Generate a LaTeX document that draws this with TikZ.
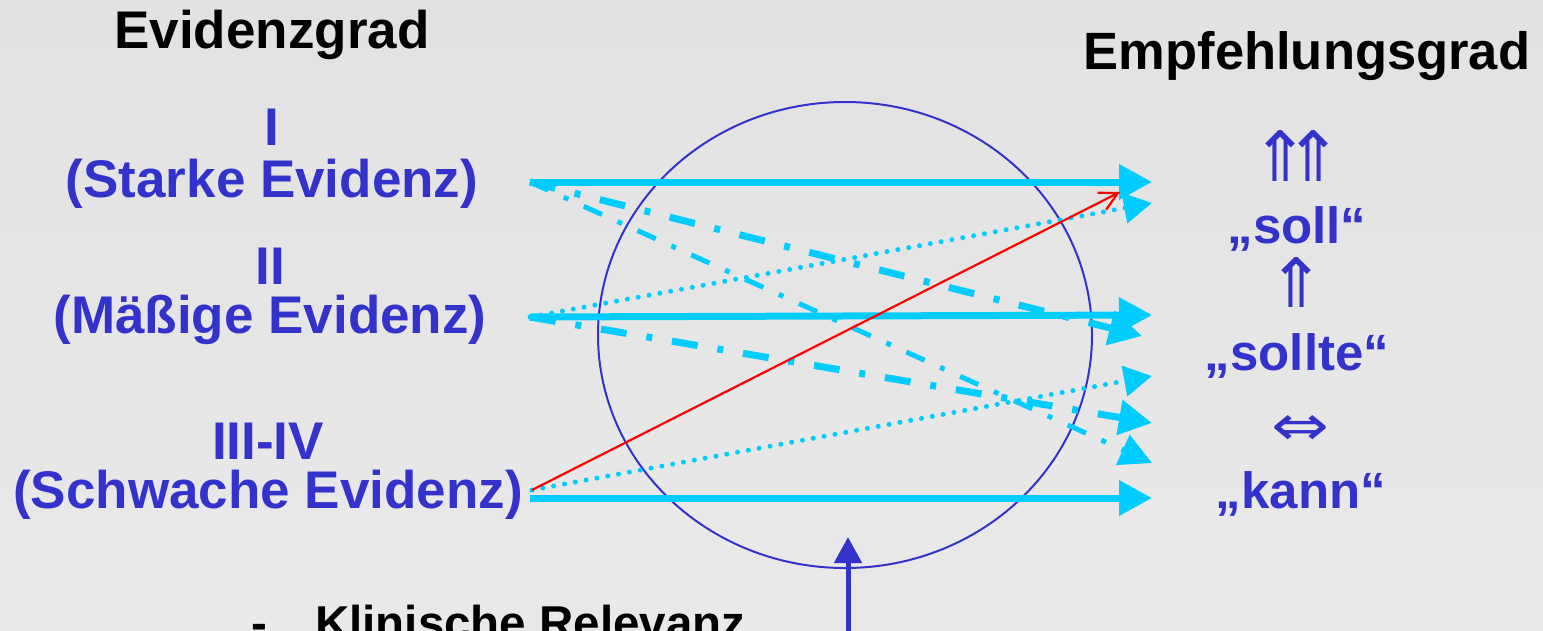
\documentclass[tikz,border=0pt]{standalone}
\usepackage{fontspec}
\setmainfont{Liberation Sans}
\newfontfamily\symfont{DejaVu Sans}
\usetikzlibrary{arrows.meta}
\definecolor{bgtop}{HTML}{E2E2E2}
\definecolor{bgbot}{HTML}{E9E9E9}
\definecolor{txtblue}{HTML}{3333CC}
\definecolor{cyanarr}{HTML}{00CCFF}
\begin{document}
\begin{tikzpicture}[x=1pt,y=-1pt,
  head/.style={font=\fontsize{53}{60}\selectfont\bfseries, text=black, inner sep=0pt, anchor=base},
  lbl/.style={font=\fontsize{53}{60}\selectfont\bfseries, text=txtblue, inner sep=0pt, anchor=base},
  rlbl/.style={font=\fontsize{51}{60}\selectfont\bfseries, text=txtblue, inner sep=0pt, anchor=base},
  sym/.style={text=txtblue, inner sep=0pt, anchor=center},
  solidarr/.style={draw=cyanarr, line width=7pt, -{Triangle[length=33pt,width=34pt]}},
  dasharr/.style={draw=cyanarr, line width=7pt, dash pattern=on 26pt off 20pt on 6pt off 20pt, -{Triangle[length=33pt,width=34pt]}},
  thindash/.style={draw=cyanarr, line width=5pt, dash pattern=on 20pt off 17pt on 5pt off 17pt, -{Triangle[length=32pt,width=32pt]}},
  dotarr/.style={draw=cyanarr, line width=5pt, line cap=round, dash pattern=on 0pt off 11pt, -{Triangle[length=28pt,width=30pt]}},
  redarr/.style={draw=red, line width=2.2pt, -{Straight Barb[length=18pt,width=19pt]}},
  vertarr/.style={draw=txtblue, line width=5pt, -{Triangle[length=26pt,width=27pt]}}
]
\useasboundingbox (0,0) rectangle (1543,630);
\shade[top color=bgtop, bottom color=bgbot] (0,0) rectangle (1543,630);
\clip (0,0) rectangle (1543,630);

% headings
\node[head] (hev) at (272,48) {Evidenzgrad};
\node[head, font=\fontsize{52.5}{60}\selectfont\bfseries] (hemp) at (1307,69) {Empfehlungsgrad};

% left labels
\node[lbl] (l1) at (272,145) {I};
\node[lbl] (l1t) at (272,197) {(Starke Evidenz)};
\node[lbl] (l2) at (270,284) {II};
\node[lbl] (l2t) at (270,333) {(Mäßige Evidenz)};
\node[lbl] (l3) at (268,459) {III-IV};
\node[lbl] (l3t) at (268,508) {(Schwache Evidenz)};

% right labels
\node[sym] (a1a) at (1280.5,156) {\resizebox{58pt}{51pt}{\symfont ⇑}};
\node[sym] (a1b) at (1313,156) {\resizebox{58pt}{51pt}{\symfont ⇑}};
\node[rlbl] (r1t) at (1297,243) {„soll“};
\node[sym] (a2) at (1296,282) {\resizebox{58pt}{50pt}{\symfont ⇑}};
\node[rlbl] (r2t) at (1297,370) {„sollte“};
\node[sym] (a3) at (1300,430) {\resizebox{58pt}{30pt}{\symfont ⇔}};
\node[rlbl] (r3t) at (1301,508) {„kann“};

% circle
\node[draw=txtblue, line width=2pt, circle, inner sep=0pt, minimum size=10pt, xscale=49.4, yscale=46.6] (ell) at (845,335) {};

% coordinates
\coordinate (s1) at (530,182);
\coordinate (s2) at (530,317);
\coordinate (s3) at (530,498);
\coordinate (s3d) at (532,490);
\coordinate (t1) at (1152,182);
\coordinate (t1b) at (1152,203);
\coordinate (t2) at (1152,315);
\coordinate (t2b) at (1142,336);
\coordinate (t3a) at (1152,376);
\coordinate (t3b) at (1152,423);
\coordinate (t3c) at (1152,463);
\coordinate (t4) at (1152,498);
\coordinate (tr) at (1120,192);
\coordinate (vb) at (848,645);
\coordinate (vt) at (848,537);

% arrows
\draw[solidarr] (s1) -- (t1);
\draw[solidarr] (s2) -- (t2);
\draw[solidarr] (s3) -- (t4);
\draw[dasharr] (s1) -- (t2b);
\draw[dasharr] (s2) -- (t3b);
\draw[thindash] (s1) -- (t3c);
\draw[dotarr] (s2) -- (t1b);
\draw[dotarr] (s3d) -- (t3a);
\draw[redarr] (s3d) -- (tr);
\draw[vertarr] (vb) -- (vt);

% bottom text
\node[head, font=\fontsize{47.5}{55}\selectfont\bfseries] (dash) at (259,639) {-};
\node[head, anchor=base west, font=\fontsize{47.5}{55}\selectfont\bfseries] (klin) at (315,639) {Klinische Relevanz};
\end{tikzpicture}
\end{document}
